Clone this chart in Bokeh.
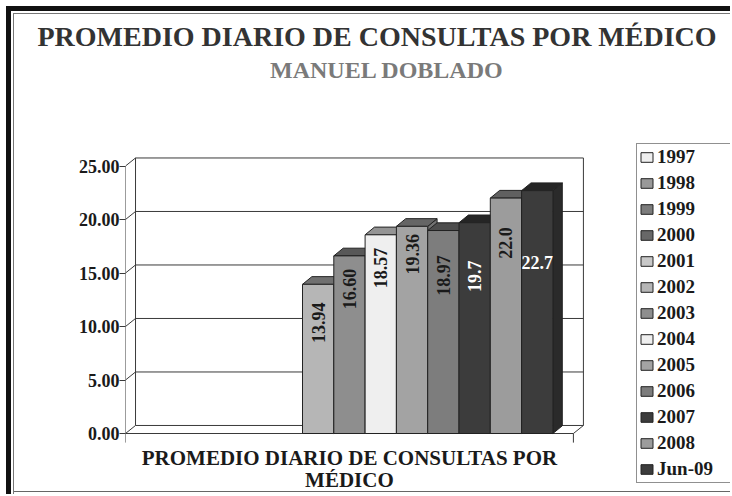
import math
from bokeh.plotting import figure
from bokeh.models import (Range1d, FixedTicker, PrintfTickFormatter, Legend,
                          LegendItem, Title, ColumnDataSource, InlineStyleSheet)
from bokeh.core.properties import value
from bokeh.embed import file_html
from bokeh.resources import INLINE

# ---------------- data ----------------
title_text = "PROMEDIO DIARIO DE CONSULTAS POR MÉDICO"
subtitle_text = "MANUEL DOBLADO"
category_lines = ["PROMEDIO DIARIO DE CONSULTAS POR", "MÉDICO"]
series = ["1997", "1998", "1999", "2000", "2001", "2002", "2003",
          "2004", "2005", "2006", "2007", "2008", "Jun-09"]
values = [None, None, None, None, None,
          13.94, 16.60, 18.57, 19.36, 18.97, 19.7, 22.0, 22.7]
value_labels = ["", "", "", "", "",
                "13.94", "16.60", "18.57", "19.36", "18.97", "19.7", "22.0", "22.7"]
y_ticks = [0, 5, 10, 15, 20, 25]

# ---------------- styles ----------------
colors = ["#efefef", "#999999", "#7c7c7c", "#686868", "#c8c8c8", "#b6b6b6",
          "#8e8e8e", "#efefef", "#a3a3a3", "#7d7d7d", "#3c3c3c", "#9c9c9c", "#3c3c3c"]
label_drop = [0, 0, 0, 0, 0, 3.6, 3.1, 3.1, 2.6, 4.2, 5.0, 4.2, 6.7]
label_rotated = [True] * 12 + [False]
label_colors = ["#1a1a1a"] * 10 + ["white", "#1a1a1a", "white"]
FONT = "Liberation Serif"

W, H = 730, 494
LEFT = 125            # left panel (y axis)
TOP = 51              # top panel (title)
SLOT_PX = 31.3        # one bar slot, px
UNIT_PX = 10.7        # one y unit, px
ZERO_PX = 433         # y = 0 from canvas top
GAP = 0.655           # gap before first slot (slot units)
WALL_DX, WALL_DY = 0.32, 0.75
BAR_DX, BAR_DY = 0.30, 0.72
LINE = "#3a3a3a"


def shade(hexc, f):
    r, g, b = (int(hexc[i:i + 2], 16) for i in (1, 3, 5))
    return "#%02x%02x%02x" % (int(r * f), int(g * f), int(b * f))


def px_to_x(px):
    return (px - LEFT) / SLOT_PX


def px_to_y(py):
    return (ZERO_PX - py) / UNIT_PX


p = figure(width=W, height=H, x_range=Range1d(0, px_to_x(W)),
           y_range=Range1d(px_to_y(H), px_to_y(TOP)),
           output_backend="svg", toolbar_location=None, x_axis_location=None,
           min_border_left=LEFT, min_border_right=0, min_border_top=TOP, min_border_bottom=0)
p.title.text = ""
p.outline_line_color = None
p.xgrid.visible = False
p.ygrid.visible = False
p.border_fill_color = None
p.background_fill_color = None
p.stylesheets = [InlineStyleSheet(css=(
    ":host { box-shadow: inset 6px 6px 0 0 #fff, inset 11px 11px 0 0 #111, "
    "inset 13px 13px 0 0 #fff, inset 14px 14px 0 0 #777, "
    "inset 0 -2px 0 0 #fff, inset 0 -3px 0 0 #666; }"))]

ax = p.yaxis[0]
ax.ticker = FixedTicker(ticks=y_ticks)
ax.formatter = PrintfTickFormatter(format="%.2f")
ax.axis_line_color = None
ax.major_tick_in = 0
ax.major_tick_out = 6
ax.major_tick_line_color = LINE
ax.minor_tick_line_color = None
ax.major_label_standoff = 0
ax.major_label_text_font = FONT
ax.major_label_text_font_style = "bold"
ax.major_label_text_font_size = "18px"
ax.major_label_text_color = "#1a1a1a"

# ---------------- walls & floor ----------------
floor_right = 2 * GAP + len(series)
ymax = y_ticks[-1]
xs0, ys0, xs1, ys1 = [], [], [], []
for t in y_ticks:
    xs0.append(0); ys0.append(t); xs1.append(WALL_DX); ys1.append(t + WALL_DY)
    xs0.append(WALL_DX); ys0.append(t + WALL_DY)
    xs1.append(floor_right + WALL_DX); ys1.append(t + WALL_DY)
for xv, yo in ((0, 0), (WALL_DX, WALL_DY), (floor_right + WALL_DX, WALL_DY)):
    xs0.append(xv); ys0.append(yo); xs1.append(xv); ys1.append(ymax + yo)
xs0 += [0, floor_right]; ys0 += [0, 0]
xs1 += [floor_right, floor_right + WALL_DX]; ys1 += [0, WALL_DY]
xs0 += [0, floor_right]; ys0 += [0, 0]
xs1 += [0, floor_right]; ys1 += [-0.85, -0.85]
p.segment(x0=xs0, y0=ys0, x1=xs1, y1=ys1, line_color=LINE, line_width=1)

# ---------------- bars ----------------
items = []
lab_x, lab_y, lab_t, lab_a, lab_c = [], [], [], [], []
for i, (name, v, c) in enumerate(zip(series, values, colors)):
    l = GAP + i
    r = l + 1
    if v is None:
        src = ColumnDataSource(dict(left=[l], right=[r], top=[math.nan], bottom=[math.nan]))
    else:
        p.patch([r, r + BAR_DX, r + BAR_DX, r], [0, BAR_DY, v + BAR_DY, v],
                fill_color=shade(c, 0.7), line_color="#222222", line_width=1)
        p.patch([l, r, r + BAR_DX, l + BAR_DX], [v, v, v + BAR_DY, v + BAR_DY],
                fill_color=shade(c, 0.62), line_color="#222222", line_width=1)
        src = ColumnDataSource(dict(left=[l], right=[r], top=[v], bottom=[0]))
        lab_x.append((l + r) / 2)
        lab_y.append(v - label_drop[i])
        lab_t.append(value_labels[i])
        lab_a.append(math.pi / 2 if label_rotated[i] else 0)
        lab_c.append(label_colors[i])
    rr = p.quad(left="left", right="right", top="top", bottom="bottom", source=src,
                fill_color=c, line_color="#222222", line_width=1)
    items.append(LegendItem(label=name, renderers=[rr]))

p.text(x=lab_x, y=lab_y, text=lab_t, angle=lab_a, text_color=lab_c,
       text_font=value(FONT), text_font_style="bold", text_font_size="18px",
       text_align="center", text_baseline="middle")

# category label under the floor
p.text(x=[floor_right / 2] * 2, y=[px_to_y(457), px_to_y(479)], text=category_lines,
       text_font=value(FONT), text_font_style="bold", text_font_size="21px",
       text_color="#1a1a1a", text_align="center", text_baseline="middle")

# subtitle (inside the frame area) and title (above panel)
p.text(x=[px_to_x(386.5)], y=[px_to_y(69)], text=[subtitle_text],
       text_font=value(FONT), text_font_style="bold", text_font_size="24px",
       text_color="#7a7a7a", text_align="center", text_baseline="middle")
p.add_layout(Title(text=title_text, align="left", offset=37 - LEFT, standoff=0,
                   text_font=FONT, text_font_style="bold", text_font_size="28px",
                   text_color="#333333"), "above")

legend = Legend(items=items, location=(511, 11), orientation="vertical",
                label_text_font=FONT, label_text_font_style="bold",
                label_text_font_size="19px", label_text_color="#1a1a1a",
                glyph_width=15, glyph_height=12, label_standoff=3,
                spacing=4, padding=2, margin=0, label_width=95, label_height=21,
                border_line_color="#222222", border_line_width=1,
                background_fill_color="white", background_fill_alpha=1)
p.add_layout(legend)

open("out.html", "w").write(file_html(p, INLINE))
